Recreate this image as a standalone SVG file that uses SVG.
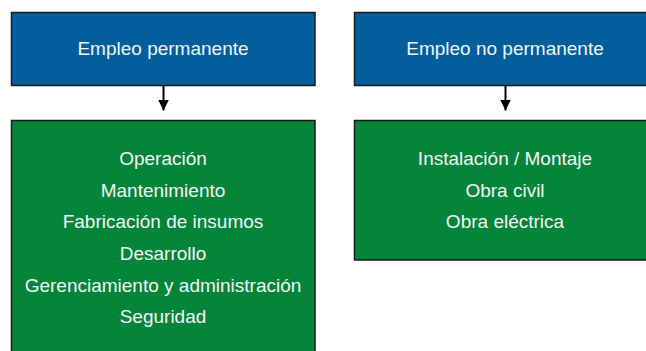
<svg xmlns="http://www.w3.org/2000/svg" width="646" height="351" viewBox="0 0 646 351">
<style>
.blue{fill:#035f9b;stroke:#1a1a1a;stroke-width:1.5}
.green{fill:#05853a;stroke:#1a1a1a;stroke-width:1.5}
text{font-family:"Liberation Sans",Arial,sans-serif;font-size:19px;fill:#f4f4f4;text-anchor:middle}
.conn{stroke:#000;stroke-width:2;fill:none}
</style>
<defs>
<marker id="ah" viewBox="0 0 10 10" refX="10" refY="5" markerWidth="11" markerHeight="11" markerUnits="userSpaceOnUse" orient="auto">
<path d="M0,0 L10,5 L0,10 z" fill="#000"/>
</marker>
</defs>
<g id="connectors">
<line class="conn" x1="163.5" y1="86" x2="163.5" y2="110.5" marker-end="url(#ah)"/>
<line class="conn" x1="505.5" y1="86" x2="505.5" y2="110.5" marker-end="url(#ah)"/>
</g>
<g id="n1">
<rect class="blue" x="11.5" y="12.5" width="303.5" height="73"/>
<text x="163" y="55">Empleo permanente</text>
</g>
<g id="n2">
<rect class="blue" x="354.5" y="12.5" width="300" height="73"/>
<text x="505" y="55">Empleo no permanente</text>
</g>
<g id="n3">
<rect class="green" x="11.5" y="120.5" width="303.5" height="240"/>
<text x="163" y="165">Operación</text>
<text x="163" y="196.5">Mantenimiento</text>
<text x="163" y="228">Fabricación de insumos</text>
<text x="163" y="260">Desarrollo</text>
<text x="163" y="291.5">Gerenciamiento y administración</text>
<text x="163" y="323">Seguridad</text>
</g>
<g id="n4">
<rect class="green" x="354.5" y="120.5" width="300" height="139.5"/>
<text x="505" y="165">Instalación / Montaje</text>
<text x="505" y="196.5">Obra civil</text>
<text x="505" y="228">Obra eléctrica</text>
</g>
</svg>
